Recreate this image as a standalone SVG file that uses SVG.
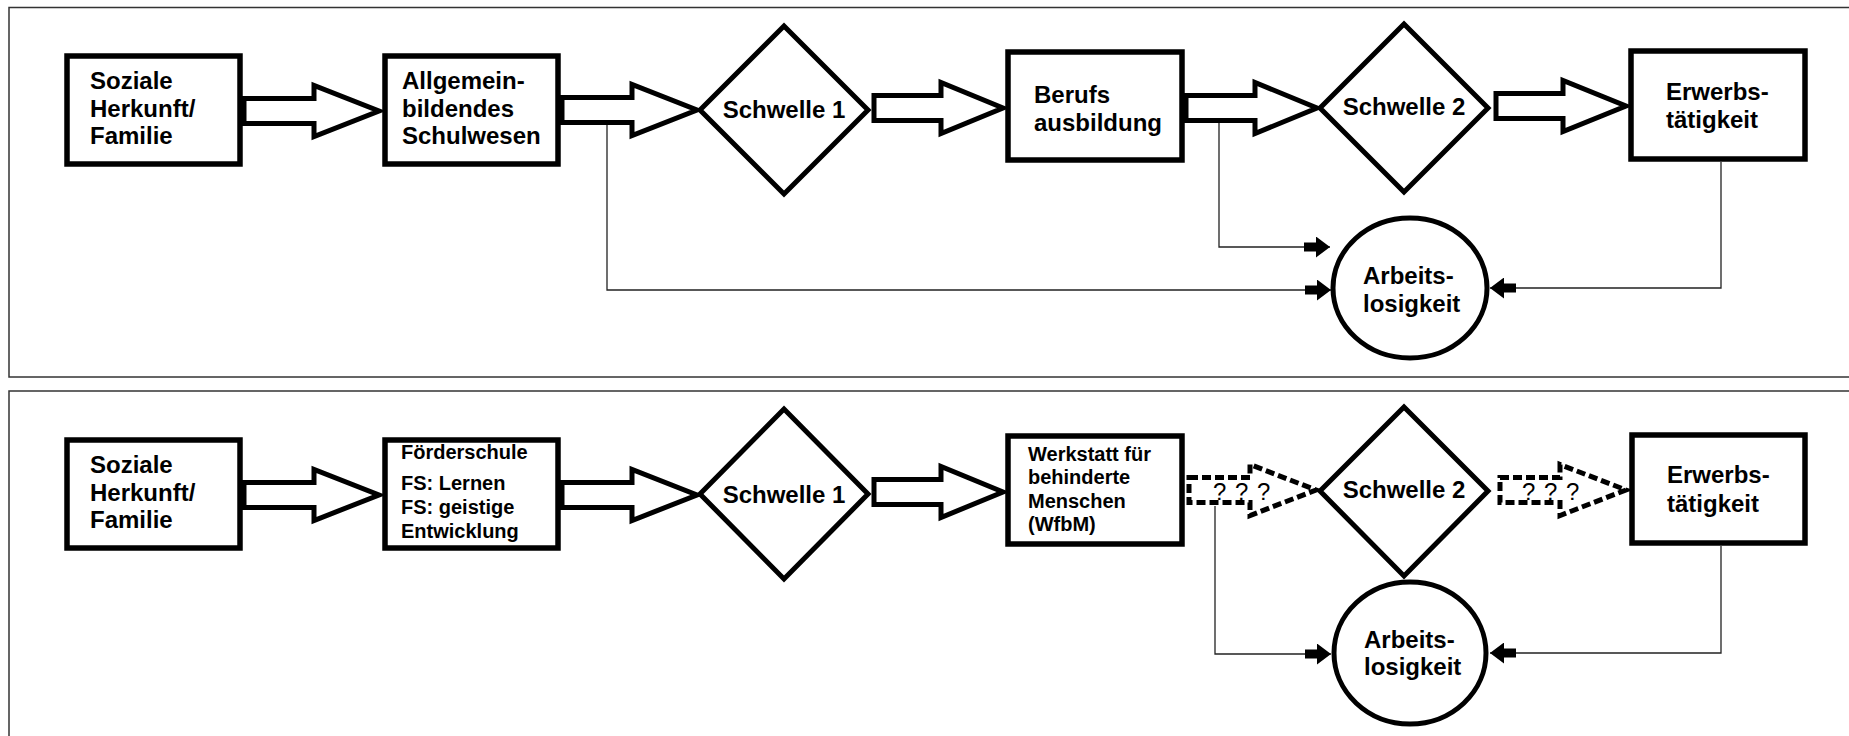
<svg xmlns="http://www.w3.org/2000/svg" width="1849" height="736" viewBox="0 0 1849 736">
<style>
.frame{fill:none;stroke:#333;stroke-width:1.5}
.box{fill:#fff;stroke:#000;stroke-width:5.5}
.dia{fill:#fff;stroke:#000;stroke-width:5;stroke-linejoin:miter}
.ell{fill:#fff;stroke:#000;stroke-width:5}
.blk{fill:#fff;stroke:#000;stroke-width:5;stroke-linejoin:miter}
.dash{fill:#fff;stroke:#000;stroke-width:5;stroke-dasharray:9 4;stroke-linejoin:miter}
.thin{fill:none;stroke:#222;stroke-width:1.3;marker-end:url(#sa)}
.t{font-family:"Liberation Sans",Arial,sans-serif;font-weight:bold;font-size:24px;fill:#000}
.s{font-size:20px}
.c{text-anchor:middle}
.q{font-family:"Liberation Sans",Arial,sans-serif;font-weight:normal;font-size:24px;fill:#000;letter-spacing:1px}
</style>
<defs>
<marker id="sa" viewBox="0 0 26 21" refX="26" refY="10.5" markerWidth="26" markerHeight="21" markerUnits="userSpaceOnUse" orient="auto">
<path d="M0,6 H12 V0 L26,10.5 L12,21 V15 H0 Z" fill="#000"/>
</marker>
</defs>
<rect width="1849" height="736" fill="#fff"/>
<rect class="frame" x="9" y="7.5" width="1850" height="369.5"/>
<rect class="frame" x="9" y="391" width="1850" height="360"/>

<g id="connectors">
<path class="blk" d="M244,98.5 H314 V85.5 L379,111 L314,136.5 V123.5 H244 Z"/>
<path class="blk" d="M562,97.5 H632 V84.5 L697,110 L632,135.5 V122.5 H562 Z"/>
<path class="blk" d="M874,95.5 H941 V82.5 L1003,108 L941,133.5 V120.5 H874 Z"/>
<path class="blk" d="M1186,95.5 H1255 V82.5 L1317,108 L1255,133.5 V120.5 H1186 Z"/>
<path class="blk" d="M1496,93.5 H1563 V80.5 L1626,106 L1563,131.5 V118.5 H1496 Z"/>
<path class="thin" d="M607,125 V290 H1331"/>
<path class="thin" d="M1219,123 V247 H1330"/>
<path class="thin" d="M1721,162 V288 H1490"/>

<path class="blk" d="M244,482.5 H314 V469.5 L379,495 L314,520.5 V507.5 H244 Z"/>
<path class="blk" d="M562,482.5 H632 V469.5 L697,495 L632,520.5 V507.5 H562 Z"/>
<path class="blk" d="M874,479.5 H941 V466.5 L1003,492 L941,517.5 V504.5 H874 Z"/>
<path class="dash" d="M1189,477.5 H1250 V464.5 L1316,490 L1250,515.5 V502.5 H1189 Z"/>
<path class="dash" d="M1500,477.5 H1560 V464.5 L1626,490 L1560,515.5 V502.5 H1500 Z"/>
<text class="q" x="1213" y="500">? ? ?</text>
<text class="q" x="1522" y="500">? ? ?</text>
<path class="thin" d="M1215,506 V654 H1331"/>
<path class="thin" d="M1721,546 V653 H1490"/>
</g>

<g id="t-soziale">
<rect class="box" x="67" y="56" width="173" height="108"/>
<text class="t" x="90" y="89">Soziale</text>
<text class="t" x="90" y="116.5">Herkunft/</text>
<text class="t" x="90" y="143.5">Familie</text>
</g>
<g id="t-allgemein">
<rect class="box" x="385" y="56" width="173" height="108"/>
<text class="t" x="402" y="89">Allgemein-</text>
<text class="t" x="402" y="116.5">bildendes</text>
<text class="t" x="402" y="143.5">Schulwesen</text>
</g>
<g id="t-schwelle1">
<polygon class="dia" points="700,110 784,26 868,110 784,194"/>
<text class="t c" x="784" y="118">Schwelle 1</text>
</g>
<g id="t-berufs">
<rect class="box" x="1008" y="52" width="174" height="108"/>
<text class="t" x="1034" y="103">Berufs</text>
<text class="t" x="1034" y="131">ausbildung</text>
</g>
<g id="t-schwelle2">
<polygon class="dia" points="1320,108 1404,24 1488,108 1404,192"/>
<text class="t c" x="1404" y="115">Schwelle 2</text>
</g>
<g id="t-erwerb">
<rect class="box" x="1631" y="51" width="174" height="108"/>
<text class="t" x="1666" y="100">Erwerbs-</text>
<text class="t" x="1666" y="128">tätigkeit</text>
</g>
<g id="t-arbeit">
<ellipse class="ell" cx="1410" cy="288" rx="77" ry="70"/>
<text class="t" x="1363" y="284">Arbeits-</text>
<text class="t" x="1363" y="312">losigkeit</text>
</g>

<g id="b-soziale">
<rect class="box" x="67" y="440" width="173" height="108"/>
<text class="t" x="90" y="473">Soziale</text>
<text class="t" x="90" y="501">Herkunft/</text>
<text class="t" x="90" y="528">Familie</text>
</g>
<g id="b-foerder">
<rect class="box" x="385" y="440" width="173" height="108"/>
<text class="t s" x="401" y="459">Förderschule</text>
<text class="t s" x="401" y="490">FS: Lernen</text>
<text class="t s" x="401" y="514">FS: geistige</text>
<text class="t s" x="401" y="538">Entwicklung</text>
</g>
<g id="b-schwelle1">
<polygon class="dia" points="700,494 784,409 868,494 784,579"/>
<text class="t c" x="784" y="503">Schwelle 1</text>
</g>
<g id="b-wfbm">
<rect class="box" x="1008" y="436" width="174" height="108"/>
<text class="t s" x="1028" y="461">Werkstatt für</text>
<text class="t s" x="1028" y="484">behinderte</text>
<text class="t s" x="1028" y="508">Menschen</text>
<text class="t s" x="1028" y="531">(WfbM)</text>
</g>
<g id="b-schwelle2">
<polygon class="dia" points="1320,491 1404,407 1488,491 1404,576"/>
<text class="t c" x="1404" y="498">Schwelle 2</text>
</g>
<g id="b-erwerb">
<rect class="box" x="1632" y="435" width="173" height="108"/>
<text class="t" x="1667" y="483">Erwerbs-</text>
<text class="t" x="1667" y="512">tätigkeit</text>
</g>
<g id="b-arbeit">
<ellipse class="ell" cx="1410" cy="653" rx="76" ry="71"/>
<text class="t" x="1364" y="648">Arbeits-</text>
<text class="t" x="1364" y="675">losigkeit</text>
</g>
</svg>
